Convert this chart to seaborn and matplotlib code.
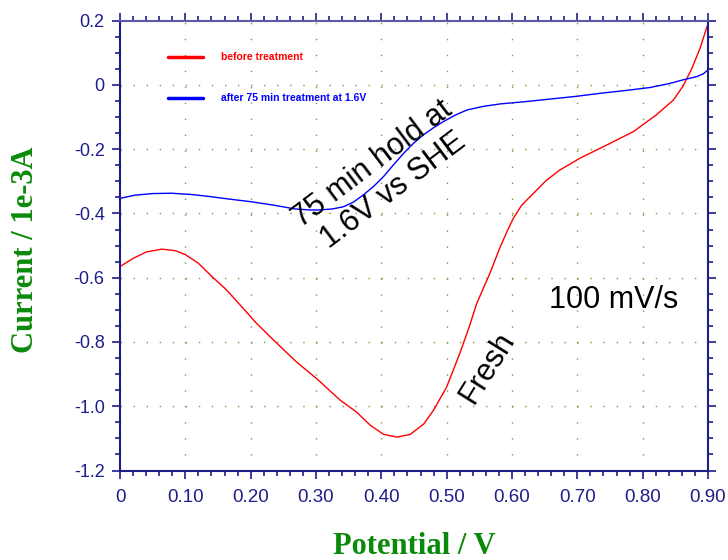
import matplotlib
matplotlib.use("Agg")
import matplotlib.pyplot as plt
import seaborn as sns
import pandas as pd
from matplotlib.ticker import MultipleLocator, FixedLocator, FixedFormatter

# ---- data ----
before_x = [0.000, 0.020, 0.040, 0.064, 0.085, 0.100, 0.120, 0.140, 0.160, 0.168,
            0.188, 0.209, 0.235, 0.270, 0.301, 0.337, 0.362, 0.383, 0.403, 0.4235,
            0.444, 0.465, 0.480, 0.490, 0.500, 0.520, 0.535, 0.546, 0.566, 0.582,
            0.592, 0.602, 0.615, 0.633, 0.652, 0.673, 0.704, 0.735, 0.750, 0.786,
            0.821, 0.847, 0.862, 0.875, 0.888, 0.899]
before_y = [-0.565, -0.540, -0.520, -0.511, -0.516, -0.528, -0.555, -0.595, -0.632, -0.649,
            -0.694, -0.742, -0.794, -0.862, -0.914, -0.981, -1.018, -1.059, -1.087, -1.096,
            -1.088, -1.055, -1.012, -0.976, -0.940, -0.836, -0.750, -0.680, -0.587, -0.504,
            -0.458, -0.415, -0.374, -0.337, -0.298, -0.265, -0.228, -0.197, -0.182, -0.145,
            -0.093, -0.047, -0.003, 0.050, 0.115, 0.185]

after_x = [0.000, 0.023, 0.050, 0.079, 0.110, 0.140, 0.170, 0.199, 0.235, 0.268,
           0.290, 0.306, 0.325, 0.342, 0.357, 0.372, 0.388, 0.403, 0.418, 0.434,
           0.449, 0.464, 0.480, 0.495, 0.513, 0.531, 0.555, 0.582, 0.620, 0.658,
           0.700, 0.735, 0.775, 0.811, 0.840, 0.862, 0.883, 0.893, 0.900]
after_y = [-0.353, -0.343, -0.338, -0.337, -0.341, -0.348, -0.356, -0.363, -0.374, -0.386,
           -0.389, -0.389, -0.386, -0.379, -0.365, -0.343, -0.316, -0.286, -0.250, -0.213,
           -0.182, -0.156, -0.133, -0.114, -0.094, -0.078, -0.067, -0.059, -0.052, -0.044,
           -0.035, -0.026, -0.017, -0.008, 0.004, 0.016, 0.026, 0.035, 0.047]

series_labels = ["before treatment", "after 75 min treatment at 1.6V"]
series_colors = ["#ff0000", "#0000ff"]

x_ticks = [0.0, 0.1, 0.2, 0.3, 0.4, 0.5, 0.6, 0.7, 0.8, 0.9]
x_tick_labels = ["0", "0.10", "0.20", "0.30", "0.40", "0.50", "0.60", "0.70", "0.80", "0.90"]
y_ticks = [0.2, 0.0, -0.2, -0.4, -0.6, -0.8, -1.0, -1.2]
y_tick_labels = ["0.2", "0", "-0.2", "-0.4", "-0.6", "-0.8", "-1.0", "-1.2"]

df_before = pd.DataFrame({"x": before_x, "y": before_y})
df_after = pd.DataFrame({"x": after_x, "y": after_y})

# ---- style ----
sns.set_style("white")
plt.rcParams["font.family"] = ["Liberation Sans", "DejaVu Sans"]
plt.rcParams["axes.unicode_minus"] = False

navy = "#1e1e8a"
grid_c = "#7a9a48"

fig = plt.figure(figsize=(7.28, 5.60), dpi=100)
ax = fig.add_axes([120 / 728, 1 - 470.5 / 560, 588 / 728, 449.8 / 560])

sns.lineplot(data=df_before, x="x", y="y", sort=False, estimator=None,
             color=series_colors[0], lw=1.0, label=series_labels[0], ax=ax)
sns.lineplot(data=df_after, x="x", y="y", sort=False, estimator=None,
             color=series_colors[1], lw=1.0, label=series_labels[1], ax=ax)

ax.set_xlim(0, 0.9)
ax.set_ylim(-1.2, 0.2)

ax.xaxis.set_major_locator(FixedLocator(x_ticks))
ax.xaxis.set_major_formatter(FixedFormatter(x_tick_labels))
ax.xaxis.set_minor_locator(MultipleLocator(0.02))
ax.yaxis.set_major_locator(FixedLocator(y_ticks))
ax.yaxis.set_major_formatter(FixedFormatter(y_tick_labels))
ax.yaxis.set_minor_locator(MultipleLocator(0.05))

# dotted grids
ax.grid(False)
ax.grid(axis="x", which="major", color=grid_c, linestyle=(0, (1.0, 10.5)), lw=1.0)
ax.grid(axis="y", which="major", color=grid_c, linestyle=(0, (1.0, 8.4)), lw=1.0)
ax.set_axisbelow(True)

for side, sp in ax.spines.items():
    sp.set_visible(True)
    sp.set_color(navy)
    sp.set_linewidth(1.5)
ax.spines["top"].set_color("#5a5aa6")

ax.tick_params(which="both", direction="out", top=True, right=True,
               bottom=True, left=True, color=navy, width=1.2)
ax.tick_params(which="major", length=6)
ax.tick_params(which="minor", length=3.5)
ax.tick_params(axis="y", which="major", labelsize=13, labelcolor=navy, pad=5)
ax.tick_params(axis="x", which="major", labelsize=13.5, labelcolor=navy, pad=7)

ax.set_xlabel("")
ax.set_ylabel("")
fig.text(414 / 728, 1 - 546 / 560, "Potential / V", ha="center", va="center",
         family=["Liberation Serif", "DejaVu Serif"], fontweight="bold",
         fontsize=22, color="#0a8a0a")
fig.text(26 / 728, 1 - 250 / 560, "Current / 1e-3A", ha="center", va="center",
         rotation=90, family=["Liberation Serif", "DejaVu Serif"], fontweight="bold",
         fontsize=22, color="#0a8a0a")

# legend
leg = ax.legend(loc="upper left", bbox_to_anchor=(0.082, 0.93), frameon=False,
                borderpad=0, borderaxespad=0, handlelength=3.3, handletextpad=1.8,
                labelspacing=3.0,
                prop={"family": ["Liberation Sans", "DejaVu Sans"],
                      "weight": "bold", "size": 7.5})
for line, txt, c in zip(leg.get_lines(), leg.get_texts(), series_colors):
    line.set_linewidth(2.5)
    txt.set_color(c)

# annotations
ax.text(0.4026, -0.2866, "75 min hold at\n1.6V vs SHE", ha="center", va="center",
        rotation=37, rotation_mode="anchor", fontsize=22, color="black",
        multialignment="center", linespacing=1.15)
ax.text(0.5617, -0.8785, "Fresh", ha="center", va="center", rotation=58,
        rotation_mode="anchor", fontsize=22, color="black")
ax.text(0.755, -0.67, "100 mV/s", ha="center", va="center", fontsize=22, color="black")

fig.savefig("out.png", dpi=100, facecolor="white")
